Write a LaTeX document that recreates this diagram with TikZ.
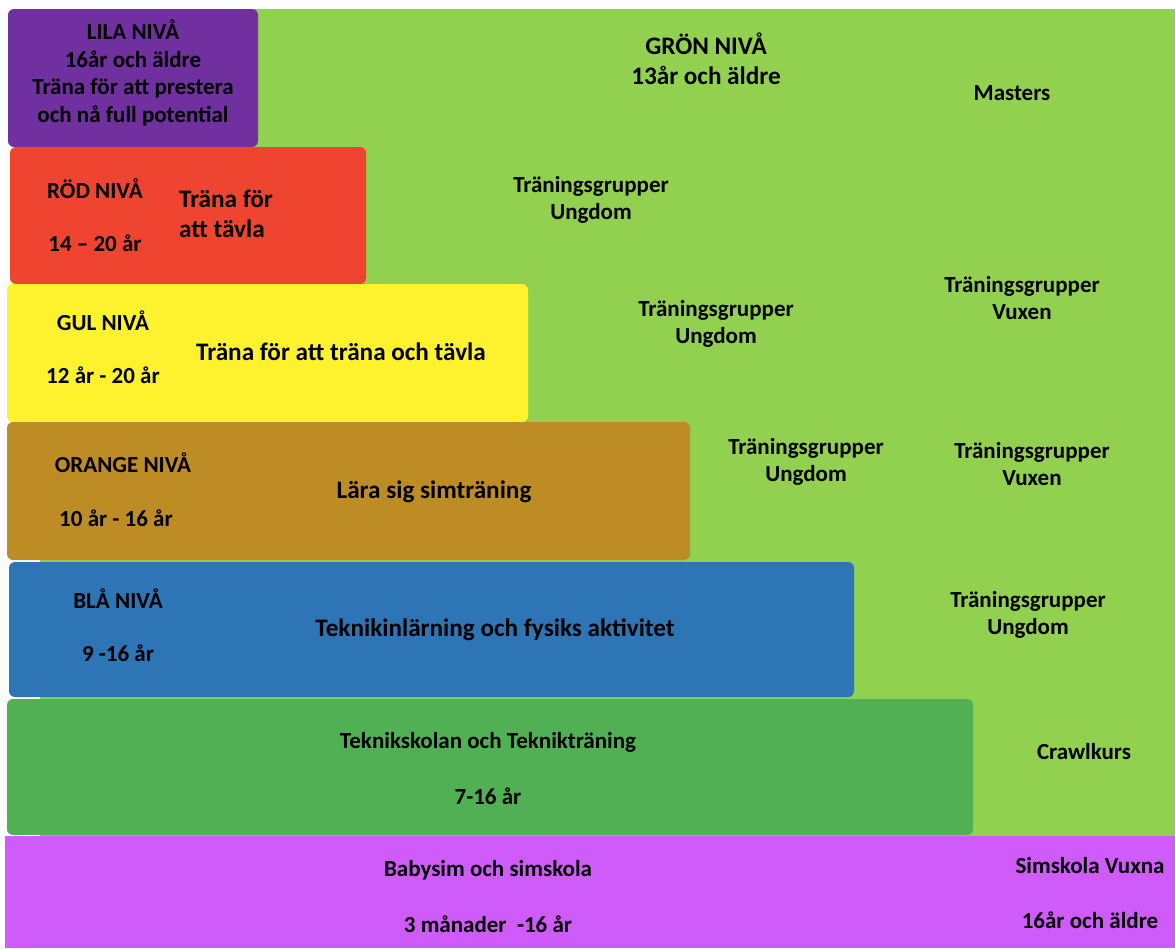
\documentclass[tikz,border=0pt]{standalone}
\usepackage{fontspec}
\setmainfont{Carlito}
\definecolor{lgreen}{HTML}{92D050}
\definecolor{lila}{HTML}{7030A0}
\definecolor{rod}{HTML}{EE4430}
\definecolor{gul}{HTML}{FEF22F}
\definecolor{orng}{HTML}{BE8C24}
\definecolor{bla}{HTML}{2E75B6}
\definecolor{dgreen}{HTML}{52B054}
\definecolor{magenta2}{HTML}{CF5CFA}
\tikzset{
  lvl/.style={rounded corners=6pt},
  txt/.style={font=\bfseries\fontsize{23}{27.5}\selectfont, align=center, inner sep=0pt, text=black},
  bigtxt/.style={txt, font=\bfseries\fontsize{25.2}{29.5}\selectfont},
}
\begin{document}
\begin{tikzpicture}[x=1pt,y=-1pt]
\useasboundingbox (0,0) rectangle (1175,948);
\fill[white] (0,0) rectangle (1175,948);
\fill[lgreen] (40,9) rectangle (1175,836);
\fill[lila,lvl] (8,9) rectangle (258,147);
\fill[rod,lvl] (10,147) rectangle (366,284);
\fill[gul,lvl] (7,284) rectangle (528,422);
\fill[orng,lvl] (7,422) rectangle (690,560);
\fill[bla,lvl] (9,562) rectangle (854,697);
\fill[dgreen,lvl] (7,699) rectangle (973,835);
\fill[magenta2] (5,836) rectangle (1175,948);
% texts
\node[txt] (lila) at (133,73) {LILA NIVÅ\\16år och äldre\\Träna för att prestera\\och nå full potential};
\node[bigtxt] (gron) at (706,59) {GRÖN NIVÅ\\13år och äldre};
\node[txt] (masters) at (1012,93) {Masters};
\node[txt] (tg1) at (591,200) {Träningsgrupper\\Ungdom};
\node[txt] (rod1) at (95,189) {RÖD NIVÅ};
\node[txt] (rod2) at (95,243) {14 – 20 år};
\node[bigtxt, align=left] (rod3) at (226,214) {Träna för\\att tävla};
\node[txt] (gul1) at (103,321) {GUL NIVÅ};
\node[txt] (gul2) at (103,375) {12 år - 20 år};
\node[bigtxt] (gul3) at (341,352) {Träna för att träna och tävla};
\node[txt] (tg2) at (716,324) {Träningsgrupper\\Ungdom};
\node[txt] (tv1) at (1022,298) {Träningsgrupper\\Vuxen};
\node[txt] (or1) at (123,463) {ORANGE NIVÅ};
\node[txt] (or2) at (116,518) {10 år - 16 år};
\node[bigtxt] (or3) at (434,492) {Lära sig simträning};
\node[txt] (tg3) at (806,462) {Träningsgrupper\\Ungdom};
\node[txt] (tv2) at (1032,464) {Träningsgrupper\\Vuxen};
\node[txt] (bl1) at (118,599) {BLÅ NIVÅ};
\node[txt] (bl2) at (118,653) {9 -16 år};
\node[bigtxt] (bl3) at (495,630) {Teknikinlärning och fysiks aktivitet};
\node[txt] (tg4) at (1028,615) {Träningsgrupper\\Ungdom};
\node[txt] (gr1) at (488,742) {Teknikskolan och Teknikträning};
\node[txt] (gr2) at (488,796) {7-16 år};
\node[txt] (crawl) at (1084,752) {Crawlkurs};
\node[txt] (bs1) at (488,870) {Babysim och simskola};
\node[txt] (bs2) at (488,924) {3 månader\ \ -16 år};
\node[txt] (sv1) at (1090,866) {Simskola Vuxna};
\node[txt] (sv2) at (1090,920) {16år och äldre};
\end{tikzpicture}
\end{document}
